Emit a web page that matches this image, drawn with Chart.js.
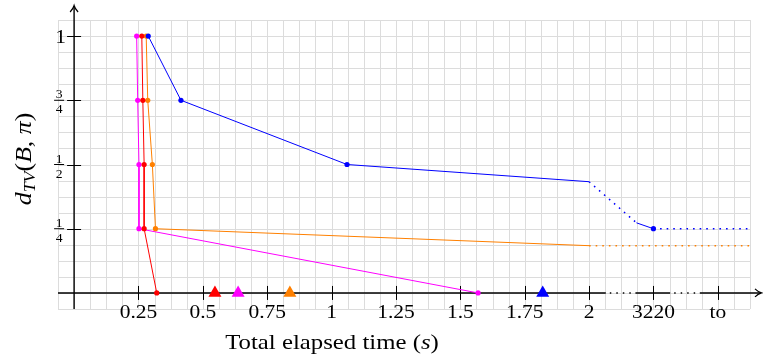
<!DOCTYPE html>
<html>
<head>
<meta charset="utf-8">
<script src="https://cdn.jsdelivr.net/npm/chart.js@4"></script>
<style>
html, body { margin: 0; padding: 0; background: #fff; }
#c { display: block; }
</style>
</head>
<body>
<canvas id="c" width="763" height="360"></canvas>
<script>
// distance levels reached and the elapsed time at which each run got there
const levels = [1, 0.75, 0.5, 0.25, 0];
const magentaTime = [0.243, 0.247, 0.252, 0.252, 1.569];
const redTime = [0.263, 0.267, 0.272, 0.272, 0.321];
const orangeTime = [0.280, 0.286, 0.304, 0.316, 2.0, 2.625];
const orangeDist = [1, 0.75, 0.5, 0.25, 0.184, 0.184];
const blueTime = [0.288, 0.415, 1.06, 2.0, 2.184, 2.25, 2.625];
const blueDist = [1, 0.75, 0.5, 0.433, 0.273, 0.25, 0.25];

// triangles on the time axis
const markerTime = [0.547, 0.637, 0.838, 1.82];
const markerColors = ['#ff0000', '#ff00ff', '#ff8000', '#0000ff'];

const xTicks = [0.25, 0.5, 0.75, 1, 1.25, 1.5, 1.75, 2, 2.25, 2.5];
const xTickLabels = ['0.25', '0.5', '0.75', '1', '1.25', '1.5', '1.75', '2', '3220', 'to'];
const yTicks = [0.25, 0.5, 0.75, 1];
const yTickLabels = [['1', '4'], ['1', '2'], ['3', '4'], ['1']];

const pts = (xs, ys) => xs.map((x, i) => ({ x: x, y: ys[i] }));
const dotted = idx => ({
  borderDash: c => idx.includes(c.p0DataIndex) ? [1.6, 5] : undefined,
  borderWidth: c => idx.includes(c.p0DataIndex) ? 1.5 : undefined
});
const serif = '"Liberation Serif", "DejaVu Serif", serif';

// text a bit wider than Liberation Serif, closer to the TeX look
function text(ctx, str, x, y, font, align, sx) {
  ctx.font = font;
  const w = ctx.measureText(str).width * sx;
  const left = align === 'center' ? x - w / 2 : align === 'right' ? x - w : x;
  ctx.save();
  ctx.translate(left, y);
  ctx.scale(sx, 1);
  ctx.textAlign = 'left';
  ctx.fillText(str, 0, 0);
  ctx.restore();
  return w;
}
function run(ctx, parts, cx, cy, sx) {
  let w = 0;
  parts.forEach(p => { ctx.font = p[1]; w += ctx.measureText(p[0]).width * sx; });
  let px = cx - w / 2;
  parts.forEach(p => { px += text(ctx, p[0], px, cy + (p[2] || 0), p[1], 'left', sx); });
}

const frame = {
  id: 'frame',
  beforeDatasetsDraw(chart) {
    const { ctx, chartArea: a, scales: { x, y } } = chart;
    ctx.save();
    // grid, every 1/16
    ctx.strokeStyle = '#dcdcdc';
    ctx.lineWidth = 1;
    ctx.beginPath();
    for (let i = 0; i <= 43; i++) {
      const px = Math.round(x.getPixelForValue(-0.0625 + i * 0.0625)) + 0.5;
      ctx.moveTo(px, a.top); ctx.lineTo(px, a.bottom);
    }
    for (let i = 0; i <= 18; i++) {
      const py = Math.round(y.getPixelForValue(-0.0625 + i * 0.0625)) + 0.5;
      ctx.moveTo(a.left, py); ctx.lineTo(a.right, py);
    }
    ctx.stroke();

    const x0 = x.getPixelForValue(0), y0 = y.getPixelForValue(0);
    ctx.strokeStyle = '#000';
    ctx.lineWidth = 1.4;
    // x axis with two broken stretches
    const solid = [[a.left, x.getPixelForValue(2.065)],
                   [x.getPixelForValue(2.18), x.getPixelForValue(2.315)],
                   [x.getPixelForValue(2.43), 761]];
    ctx.beginPath();
    solid.forEach(s => { ctx.moveTo(s[0], y0); ctx.lineTo(s[1], y0); });
    ctx.moveTo(x0, a.bottom); ctx.lineTo(x0, 6);
    ctx.stroke();
    ctx.setLineDash([1.5, 5]);
    ctx.beginPath();
    for (let i = 0; i < solid.length - 1; i++) {
      ctx.moveTo(solid[i][1] + 4, y0); ctx.lineTo(solid[i + 1][0], y0);
    }
    ctx.stroke();
    ctx.setLineDash([]);
    // arrow heads
    ctx.lineWidth = 1.2;
    ctx.beginPath();
    ctx.moveTo(x0 - 4, 12); ctx.quadraticCurveTo(x0 - 1, 9, x0, 5.5); ctx.quadraticCurveTo(x0 + 1, 9, x0 + 4, 12);
    ctx.moveTo(755, y0 - 4); ctx.quadraticCurveTo(758, y0 - 1, 761.5, y0); ctx.quadraticCurveTo(758, y0 + 1, 755, y0 + 4);
    ctx.stroke();
    // tick marks
    ctx.lineWidth = 1;
    ctx.beginPath();
    xTicks.forEach(v => {
      const px = Math.round(x.getPixelForValue(v)) + 0.5;
      ctx.moveTo(px, y0 - 7); ctx.lineTo(px, y0 + 7);
    });
    yTicks.forEach(v => {
      const py = Math.round(y.getPixelForValue(v)) + 0.5;
      ctx.moveTo(x0 - 7, py); ctx.lineTo(x0 + 7, py);
    });
    ctx.stroke();
    ctx.restore();
  },
  afterDraw(chart) {
    const { ctx, scales: { x, y } } = chart;
    const x0 = x.getPixelForValue(0), y0 = y.getPixelForValue(0);
    ctx.save();
    ctx.fillStyle = '#000';
    ctx.textBaseline = 'alphabetic';
    const tick = '19px ' + serif;
    xTicks.forEach((v, i) => text(ctx, xTickLabels[i], x.getPixelForValue(v), y0 + 25, tick, 'center', 1.13));
    yTicks.forEach((v, i) => {
      const py = y.getPixelForValue(v), lab = yTickLabels[i];
      if (lab.length === 1) {
        text(ctx, lab[0], x0 - 8, py + 6.5, tick, 'right', 1.13);
      } else {
        const f = '13px ' + serif;
        text(ctx, lab[0], x0 - 15, py - 2, f, 'center', 1.05);
        text(ctx, lab[1], x0 - 15, py + 13, f, 'center', 1.05);
        ctx.fillRect(x0 - 20, py - 0.5, 10, 1);
      }
    });
    // axis titles, built from roman and italic pieces
    const rom = '21px ' + serif, it = 'italic 21px ' + serif;
    run(ctx, [['Total elapsed time (', rom], ['s', it], [')', rom]], 332, 349, 1.18);
    ctx.translate(31, 159);
    ctx.rotate(-Math.PI / 2);
    const rom2 = '23px ' + serif, it2 = 'italic 23px ' + serif, sub = 'italic 16px ' + serif;
    run(ctx, [['d', it2], ['TV', sub, 4], ['(', rom2], ['B', it2], [', ', rom2], ['\u03c0', it2], [')', rom2]], 0, 0, 1.12);
    ctx.restore();
  }
};

new Chart(document.getElementById('c'), {
  type: 'line',
  data: {
    datasets: [
      { data: pts(blueTime, blueDist), borderColor: '#0000ff', backgroundColor: '#0000ff',
        pointRadius: [2.6, 2.6, 2.6, 0, 0, 2.6, 0], segment: dotted([3, 5]) },
      { data: pts(redTime, levels), borderColor: '#ff0000', backgroundColor: '#ff0000', pointRadius: 2.6 },
      { data: pts(orangeTime, orangeDist), borderColor: '#ff8000', backgroundColor: '#ff8000',
        pointRadius: [2.6, 2.6, 2.6, 2.6, 0, 0], segment: dotted([4]) },
      { data: pts(magentaTime, levels), borderColor: '#ff00ff', backgroundColor: '#ff00ff', pointRadius: 2.6 },
      { type: 'scatter', data: markerTime.map(t => ({ x: t, y: 0 })), pointStyle: 'triangle',
        pointRadius: 7.5, backgroundColor: markerColors, borderColor: markerColors, borderWidth: 0 }
    ]
  },
  options: {
    responsive: false,
    animation: false,
    events: [],
    layout: { padding: { left: 58, right: 13, top: 20, bottom: 51 } },
    elements: { line: { borderWidth: 1, tension: 0 }, point: { borderWidth: 0, hoverRadius: 0 } },
    clip: false,
    plugins: { legend: { display: false }, tooltip: { enabled: false } },
    scales: {
      x: { type: 'linear', min: -0.0625, max: 2.625, display: false },
      y: { type: 'linear', min: -0.0625, max: 1.0625, display: false }
    }
  },
  plugins: [frame]
});
</script>
</body>
</html>
